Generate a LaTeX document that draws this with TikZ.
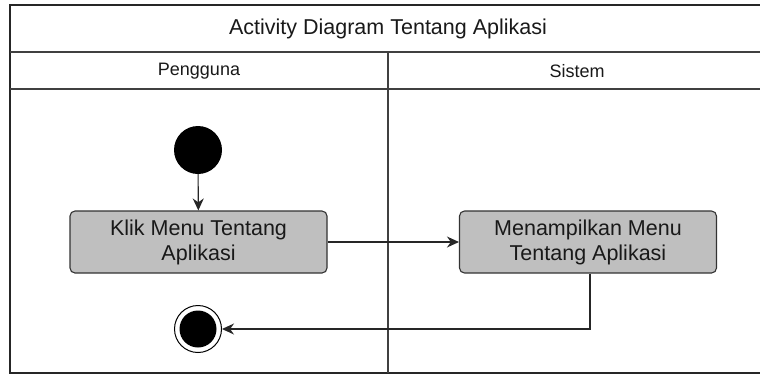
\documentclass[tikz,border=0pt]{standalone}
\usepackage{fontspec}
\setmainfont{Liberation Sans}
\usetikzlibrary{arrows.meta}
\begin{document}
\begin{tikzpicture}[x=1pt,y=-1pt,
  frame/.style={draw=black!85,line width=1.4pt},
  lane/.style={draw=black!75,line width=1.3pt},
  actbox/.style={draw=black!80,line width=1.1pt,fill=black!25,rounded corners=5pt,
    minimum width=257pt,minimum height=62pt,align=center,inner sep=0pt,
    font=\fontsize{21.5}{25}\selectfont,text=black!90},
  flow/.style={draw=black!85,line width=1.1pt,-{Stealth[length=12pt,width=11pt]}},
  startnode/.style={circle,fill=black,minimum size=48pt,inner sep=0pt},
  title/.style={font=\fontsize{21.5}{24}\selectfont,text=black!90},
  lanehead/.style={font=\fontsize{18}{20}\selectfont,text=black!90}]
\useasboundingbox (0,0) rectangle (760,376);
\fill[white] (0,0) rectangle (760,376);
\begin{scope}
\clip (0,0) rectangle (760,376);
% pool frame, title row, lane header row, lane divider
\draw[frame] (10,5) rectangle (767,373);
\draw[lane] (10,52) -- (767,52);
\draw[lane] (10,89) -- (767,89);
\draw[lane] (388,52) -- (388,373);
\end{scope}
\node[title] (ttl) at (388,29) {Activity Diagram Tentang Aplikasi};
\node[lanehead] (l1) at (199,71) {Pengguna};
\node[lanehead] (l2) at (577,71) {Sistem};
% activity nodes
\node[startnode] (start) at (198,150) {};
\node[actbox] (klik) at (198.5,242) {Klik Menu Tentang\\Aplikasi};
\node[actbox] (tampil) at (588,242) {Menampilkan Menu\\Tentang Aplikasi};
\node[circle,draw=black,line width=1pt,minimum size=47pt,inner sep=0pt] (end) at (198,329) {};
\fill[black] (end.center) circle (18.5pt);
% control flow
\draw[flow] (start) -- (klik);
\draw[flow] (klik) -- (tampil);
\draw[flow] (tampil.south -| 590,0) |- (end);
\end{tikzpicture}
\end{document}
